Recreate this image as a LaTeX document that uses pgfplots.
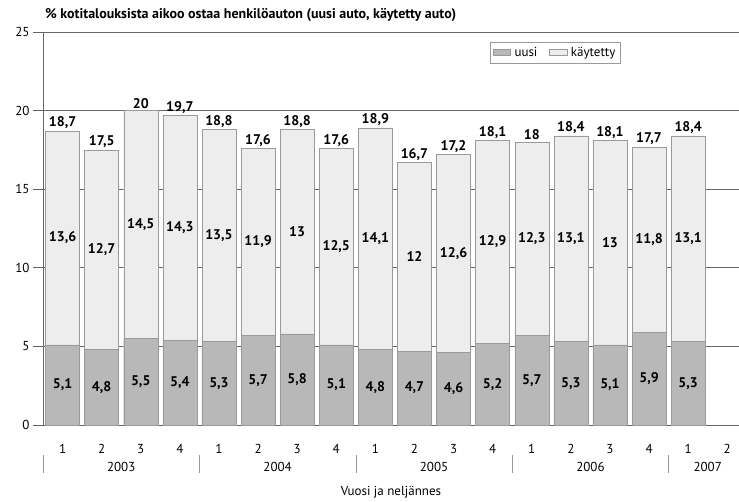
\documentclass[border=0pt]{standalone}
\usepackage{fontspec}
\setmainfont{PT Sans}
\usepackage{pgfplots}
\pgfplotsset{compat=1.18}
\usepackage{pgfplotstable}

\definecolor{uusic}{HTML}{B8B8B8}
\definecolor{kaytc}{HTML}{EDEDED}
\definecolor{edgec}{HTML}{9A9A9A}
\definecolor{gridc}{HTML}{666666}

% x = quarter index (2003 Q1 = 0)
\pgfplotstableread{
x  uusi kaytetty yht
0  5.1  13.6  18.7
1  4.8  12.7  17.5
2  5.5  14.5  20
3  5.4  14.3  19.7
4  5.3  13.5  18.8
5  5.7  11.9  17.6
6  5.8  13    18.8
7  5.1  12.5  17.6
8  4.8  14.1  18.9
9  4.7  12    16.7
10 4.6  12.6  17.2
11 5.2  12.9  18.1
12 5.7  12.3  18
13 5.3  13.1  18.4
14 5.1  13    18.1
15 5.9  11.8  17.7
16 5.3  13.1  18.4
}\data

\begin{document}
\begin{tikzpicture}[font=\fontsize{13}{15}\selectfont]
\begin{axis}[
    scale only axis,
    width=696pt, height=393pt,
    xmin=-0.5, xmax=17.3,
    ymin=0, ymax=25,
    ytick={0,5,...,25},
    xtick={0,...,17},
    xticklabels={1,2,3,4,1,2,3,4,1,2,3,4,1,2,3,4,1,2},
    axis x line*=bottom,
    axis y line*=left,
    axis line style={gridc, line width=0.8pt},
    ymajorgrids,
    grid style={gridc, line width=0.6pt},
    tick align=outside,
    major tick length=10pt,
    ytick style={gridc, line width=0.6pt},
    xtick style={draw=none},
    xticklabel style={yshift=-6pt},
    clip=false,
    /pgf/number format/use comma,
    /pgf/number format/assume math mode=true,
    legend columns=2,
    legend style={at={(0.642,0.975)}, anchor=north west, draw=edgec,
        inner sep=3pt, column sep=2pt,
        /tikz/every even column/.append style={column sep=10pt}},
    legend cell align=left,
]
% total bar (light part shows as kaytetty), uusi drawn over it
\addplot[ybar, bar width=0.87, fill=kaytc, draw=edgec, forget plot]
    table[x=x, y=yht] {\data};
\addplot[ybar, bar width=0.87, fill=uusic, draw=edgec, area legend]
    table[x=x, y=uusi] {\data};
\addlegendentry{uusi}
\addlegendimage{area legend, fill=kaytc, draw=edgec}
\addlegendentry{käytetty}

% value labels
\addplot[draw=none, mark=none, forget plot,
    point meta=\thisrow{uusi},
    nodes near coords, nodes near coords align=center,
    every node near coord/.append style={font=\fontsize{14}{16}\selectfont\bfseries, anchor=center}]
    table[x=x, y expr=\thisrow{uusi}/2] {\data};
\addplot[draw=none, mark=none, forget plot,
    point meta=\thisrow{kaytetty},
    nodes near coords, nodes near coords align=center,
    every node near coord/.append style={font=\fontsize{14}{16}\selectfont\bfseries, anchor=center}]
    table[x=x, y expr=\thisrow{uusi}+\thisrow{kaytetty}/2] {\data};
\addplot[draw=none, mark=none, forget plot,
    point meta=\thisrow{yht},
    nodes near coords,
    every node near coord/.append style={font=\fontsize{14}{16}\selectfont\bfseries, anchor=south, inner sep=2pt}]
    table[x=x, y=yht] {\data};

% year separators and labels
\draw[edgec] ([yshift=-30pt]axis cs:-0.5,0) -- ([yshift=-48pt]axis cs:-0.5,0);
\draw[edgec] ([yshift=-30pt]axis cs:3.5,0) -- ([yshift=-48pt]axis cs:3.5,0);
\draw[edgec] ([yshift=-30pt]axis cs:7.5,0) -- ([yshift=-48pt]axis cs:7.5,0);
\draw[edgec] ([yshift=-30pt]axis cs:11.5,0) -- ([yshift=-48pt]axis cs:11.5,0);
\draw[edgec] ([yshift=-30pt]axis cs:15.5,0) -- ([yshift=-48pt]axis cs:15.5,0);
\node at ([yshift=-42pt]axis cs:1.5,0) {2003};
\node at ([yshift=-42pt]axis cs:5.5,0) {2004};
\node at ([yshift=-42pt]axis cs:9.5,0) {2005};
\node at ([yshift=-42pt]axis cs:13.5,0) {2006};
\node at ([yshift=-42pt]axis cs:16.5,0) {2007};
\node at ([yshift=-67pt]rel axis cs:0.5,0) {Vuosi ja neljännes};
\node[anchor=west, inner sep=0pt, font=\fontsize{14}{16}\selectfont\bfseries]
    at ([xshift=2pt, yshift=17pt]rel axis cs:0,1)
    {\% kotitalouksista aikoo ostaa henkilöauton (uusi auto, käytetty auto)};

\coordinate (bl) at (rel axis cs:0,0);
\coordinate (tr) at (rel axis cs:1,1);
\end{axis}
\pgfresetboundingbox
\path ([xshift=-43pt, yshift=-77pt]bl) rectangle ([yshift=32pt]tr);
\end{tikzpicture}
\end{document}
